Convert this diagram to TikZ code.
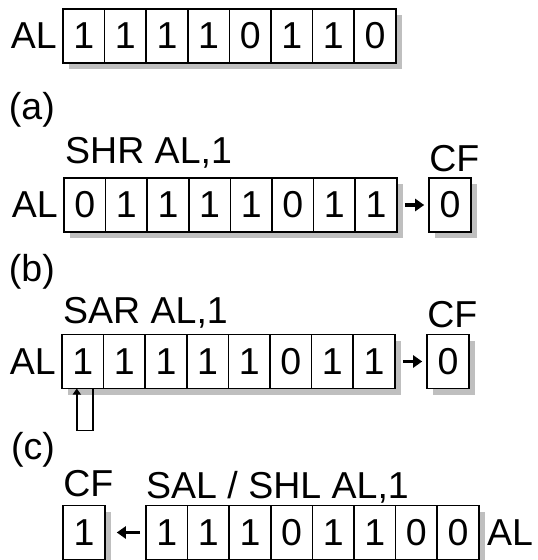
\documentclass[tikz,border=0pt]{standalone}
\usepackage{fontspec}
\setmainfont{Liberation Sans}
\usetikzlibrary{positioning,shadows,arrows.meta}

\begin{document}
\begin{tikzpicture}
	[x=1pt,y=-1pt,line cap=round,
	%Styles
	font=\fontsize{37.5}{44}\selectfont,
	bit/.style={draw,line width=1.6pt,fill=white,minimum width=41.6pt,minimum height=54pt,
		inner sep=0pt,outer sep=0pt,
		drop shadow={shadow xshift=6pt,shadow yshift=-6pt,fill=shadowgray,opacity=1}},
	caption/.style={inner sep=0pt},
	shift arrow/.style={line width=3.2pt,line cap=butt,-{Triangle[length=9pt,width=12pt]}},
	loop line/.style={line width=1.6pt,line cap=butt,-{Triangle[length=6pt,width=8pt]}}
	]

	%Colors
	\colorlet{shadowgray}{black!25}	%shadows of the boxes

	\useasboundingbox (0,0) rectangle (538,560);

	%The value of AL
	\foreach \b [count=\i] in {1,1,1,1,0,1,1,0}
		\node[bit] (o\i) at (63+41.6*\i-20.8,36) {\b};
	\node[caption,left=6pt of o1] (alo) {AL};

	%(a) SHR
	\node[caption,anchor=east] (capa) at (55,110) {(a)};
	\node[caption,anchor=base west] (insa) at (65,163) {SHR AL,1};
	\foreach \b [count=\i] in {0,1,1,1,1,0,1,1}
		\node[bit] (a\i) at (64+41.6*\i-20.8,205) {\b};
	\node[caption,left=6pt of a1] (ala) {AL};
	\node[bit] (cfa) at (450,205) {0};
	\node[caption,above right=6pt and 0pt of cfa.north west] (cfla) {CF};
	\draw[shift arrow,shorten <=8pt,shorten >=5pt] (a8) -- (cfa);

	%(b) SAR
	\node[caption,anchor=east] (capb) at (55,272) {(b)};
	\node[caption,anchor=base west] (insb) at (63,323) {SAR AL,1};
	\foreach \b [count=\i] in {1,1,1,1,1,0,1,1}
		\node[bit] (b\i) at (62+41.6*\i-20.8,361.5) {\b};
	\node[caption,left=6pt of b1] (alb) {AL};
	\node[bit] (cfb) at (448,361.5) {0};
	\node[caption,above right=6pt and 0pt of cfb.north west] (cflb) {CF};
	\draw[shift arrow,shorten <=8pt,shorten >=5pt] (b8) -- (cfb);
	\draw[loop line] ([xshift=10pt]b1.south) -- ++(0,42) -| ([xshift=-6pt]b1.south);

	%(c) SAL / SHL
	\node[caption,anchor=east] (capc) at (55,450) {(c)};
	\node[bit] (cfc) at (84,532.5) {1};
	\node[caption,above right=8pt and 0pt of cfc.north west] (cflc) {CF};
	\node[caption,anchor=base west] (insc) at (146,498) {SAL / SHL AL,1};
	\foreach \b [count=\i] in {1,1,1,0,1,1,0,0}
		\node[bit] (c\i) at (146+41.6*\i-20.8,532.5) {\b};
	\node[caption,right=8pt of c8] (alc) {AL};
	\draw[shift arrow,shorten <=6pt,shorten >=12pt] (c1) -- (cfc);
\end{tikzpicture}
\end{document}
